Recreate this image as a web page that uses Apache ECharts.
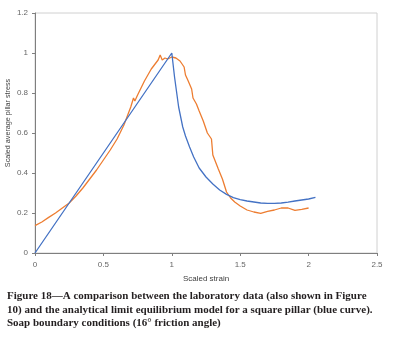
<!DOCTYPE html>
<html><head><meta charset="utf-8">
<script src="https://cdn.jsdelivr.net/npm/echarts@6/dist/echarts.min.js"></script>
<style>html,body{margin:0;padding:0;background:#fff}#c{width:395px;height:347px}</style>
</head><body><div id="c"></div>
<script>
const labX = [0,0.05,0.1,0.15,0.2,0.25,0.3,0.35,0.4,0.45,0.5,0.55,0.6,0.65,0.7,0.72,0.73,0.75,0.8,0.85,0.9,0.915,0.93,0.95,0.97,1.0,1.03,1.06,1.09,1.1,1.12,1.145,1.155,1.18,1.2,1.23,1.26,1.29,1.3,1.34,1.37,1.4,1.43,1.46,1.5,1.55,1.6,1.65,1.7,1.75,1.8,1.85,1.9,1.95,2.0];
const labY = [0.137,0.155,0.178,0.2,0.225,0.25,0.285,0.325,0.37,0.415,0.465,0.515,0.57,0.64,0.73,0.775,0.76,0.79,0.86,0.92,0.965,0.99,0.965,0.975,0.97,0.98,0.975,0.96,0.93,0.89,0.86,0.82,0.775,0.745,0.71,0.66,0.6,0.57,0.49,0.42,0.37,0.305,0.275,0.255,0.235,0.215,0.205,0.198,0.208,0.215,0.225,0.225,0.213,0.218,0.225];
const modelX = [0,1,1.02,1.05,1.08,1.1,1.13,1.16,1.2,1.25,1.3,1.35,1.4,1.45,1.5,1.55,1.6,1.65,1.7,1.75,1.8,1.85,1.9,1.95,2.0,2.05];
const modelY = [0,1,0.88,0.73,0.63,0.585,0.53,0.48,0.425,0.38,0.345,0.315,0.293,0.277,0.267,0.26,0.255,0.25,0.248,0.248,0.25,0.254,0.26,0.265,0.27,0.278];
const captionLines = [
 "Figure 18\u2014A comparison between the laboratory data (also shown in Figure",
 "10) and the analytical limit equilibrium model for a square pillar (blue curve).",
 "Soap boundary conditions (16\u00b0 friction angle)"
];
const xTitle = "Scaled strain";
const yTitle = "Scaled average pillar stress";

const chart = echarts.init(document.getElementById('c'), null, {renderer:'canvas'});
const font = 'Liberation Sans';
chart.setOption({
  animation:false,
  grid:{left:35, top:13, right:18, bottom:94, containLabel:false, outerBoundsMode:'none',
        show:true, borderColor:'#d0d0d0', borderWidth:1},
  xAxis:{type:'value', min:0, max:2.5, interval:0.5,
    axisLine:{show:true, onZero:false, lineStyle:{color:'#7f7f7f', width:1}},
    axisTick:{show:true, length:3, lineStyle:{color:'#7f7f7f'}},
    splitLine:{show:false},
    axisLabel:{color:'#666666', fontSize:8, fontFamily:font, margin:8},
    name:xTitle, nameLocation:'middle', nameGap:22, nameMoveOverlap:false,
    nameTextStyle:{color:'#404040', fontSize:8, fontFamily:font}},
  yAxis:{type:'value', min:0, max:1.2, interval:0.2,
    axisLine:{show:true, lineStyle:{color:'#7f7f7f', width:1}},
    axisTick:{show:true, length:3, lineStyle:{color:'#7f7f7f'}},
    splitLine:{show:false},
    axisLabel:{color:'#666666', fontSize:8, fontFamily:font, margin:7},
    name:yTitle, nameLocation:'middle', nameGap:23, nameRotate:90, nameMoveOverlap:false,
    nameTextStyle:{color:'#404040', fontSize:7.2, fontFamily:font, padding:[0,0,0,20]}},
  series:[
    {type:'line', data:labX.map((x,i)=>[x,labY[i]]), showSymbol:false, smooth:false,
     lineStyle:{color:'#ED7D31', width:1.3}, z:2},
    {type:'line', data:modelX.map((x,i)=>[x,modelY[i]]), showSymbol:false, smooth:false,
     lineStyle:{color:'#4472C4', width:1.3}, z:3}
  ],
  graphic: captionLines.map((t,i)=>({type:'text', left:7, top:291+i*13.3,
    style:{text:t, font:'bold 11px "Liberation Serif"', fill:'#231f20'}}))
});
</script></body></html>
